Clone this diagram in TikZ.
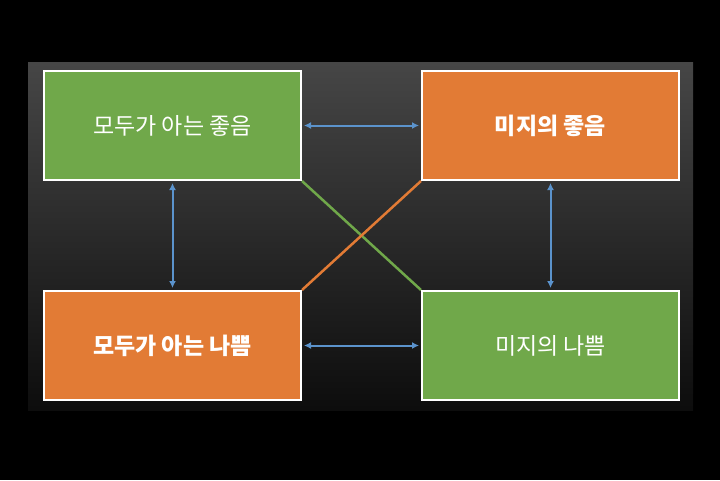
\documentclass[tikz,border=0pt]{standalone}
\usepackage{fontspec}
\usetikzlibrary{arrows.meta}
\newfontfamily\kr{Noto Sans CJK KR}
\definecolor{gbox}{HTML}{70A84A}
\definecolor{obox}{HTML}{E27B35}
\definecolor{arr}{HTML}{5B93CC}
\begin{document}
\begin{tikzpicture}[x=1pt,y=-1pt,
  box/.style={draw=white,line width=2pt,minimum width=257pt,minimum height=109pt,inner sep=0pt,anchor=north west,text=white,font=\kr\fontsize{23}{26}\selectfont},
  gr/.style={box,fill=gbox},
  org/.style={box,fill=obox,font=\kr\bfseries\fontsize{23}{26}\selectfont},
  link/.style={arr,line width=2pt,{Latex[length=7pt,width=7pt]}-{Latex[length=7pt,width=7pt]},shorten >=2pt,shorten <=2pt}]
\fill[black] (0,0) rectangle (720,480);
\useasboundingbox (0,0) rectangle (720,480);
\shade[shading=axis,left color=gray!55!black,right color=black!95,shading angle=0] (28,62) rectangle (693,410);
\node[gr] (tl) at (43,70) {모두가 아는 좋음};
\node[org] (tr) at (421,70) {미지의 좋음};
\node[org] (bl) at (43,290) {모두가 아는 나쁨};
\node[gr] (br) at (421,290) {미지의 나쁨};
\draw[gbox,line width=2.5pt] (tl.south east) -- (br.north west);
\draw[obox,line width=2.5pt] (tr.south west) -- (bl.north east);
\draw[link] (tl.east) -- (tr.west);
\draw[link] (bl.east) -- (br.west);
\draw[link] (tl.south) -- (bl.north);
\draw[link] (tr.south) -- (br.north);
\end{tikzpicture}
\end{document}
